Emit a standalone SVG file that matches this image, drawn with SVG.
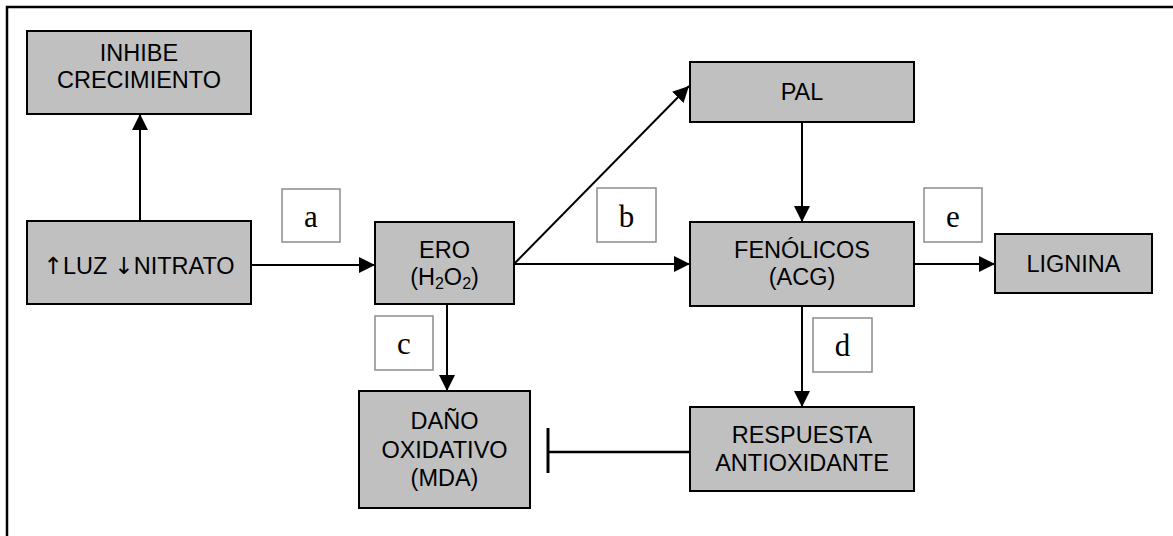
<svg xmlns="http://www.w3.org/2000/svg" width="1173" height="536" viewBox="0 0 1173 536">
<defs>
<style>
.node{fill:#c0c0c0;stroke:#000;stroke-width:2}
.t{font-family:"Liberation Sans",Arial,sans-serif;font-size:23.5px;fill:#000;text-anchor:middle}
.ar{font-family:"DejaVu Sans",sans-serif}
.lab{fill:#fff;stroke:#8c8c8c;stroke-width:1.5}
.lt{font-family:"Liberation Serif","Times New Roman",serif;font-size:31px;fill:#000;text-anchor:middle}
.c{stroke:#000;stroke-width:2;fill:none}
</style>
<marker id="ah" markerUnits="userSpaceOnUse" markerWidth="18" markerHeight="16" refX="16" refY="8" orient="auto">
<path d="M0,0 L16,8 L0,16 Z" fill="#000"/>
</marker>
</defs>
<rect x="0" y="0" width="1173" height="536" fill="#fff"/>
<path d="M7,536 L7,7 L1173,7" fill="none" stroke="#000" stroke-width="2.5"/>
<g id="connectors">
<line class="c" x1="140" y1="221" x2="140" y2="114" marker-end="url(#ah)"/>
<line class="c" x1="251" y1="265" x2="375" y2="265" marker-end="url(#ah)"/>
<line class="c" x1="514" y1="264" x2="689" y2="86" marker-end="url(#ah)"/>
<line class="c" x1="514" y1="264" x2="690" y2="264" marker-end="url(#ah)"/>
<line class="c" x1="447" y1="304" x2="447" y2="391" marker-end="url(#ah)"/>
<line class="c" x1="802" y1="122" x2="802" y2="222" marker-end="url(#ah)"/>
<line class="c" x1="914" y1="264" x2="995" y2="264" marker-end="url(#ah)"/>
<line class="c" x1="802" y1="306" x2="802" y2="407" marker-end="url(#ah)"/>
<line x1="690" y1="452" x2="548" y2="452" stroke="#000" stroke-width="2.5"/>
<line x1="548" y1="428" x2="548" y2="473" stroke="#000" stroke-width="3"/>
</g>
<g id="inhibe">
<rect class="node" x="27" y="31" width="224" height="83"/>
<text class="t" x="139" y="61">INHIBE</text>
<text class="t" x="139" y="88">CRECIMIENTO</text>
</g>
<g id="luz">
<rect class="node" x="27" y="221" width="224" height="83"/>
<text class="t" x="139" y="274"><tspan class="ar">↑</tspan>LUZ <tspan class="ar">↓</tspan>NITRATO</text>
</g>
<g id="ero">
<rect class="node" x="375" y="222" width="139" height="82"/>
<text class="t" x="444.5" y="258">ERO</text>
<text class="t" x="444.5" y="285">(H<tspan font-size="16" dy="4">2</tspan><tspan dy="-4">O</tspan><tspan font-size="16" dy="4">2</tspan><tspan dy="-4">)</tspan></text>
</g>
<g id="pal">
<rect class="node" x="690" y="62" width="224" height="60"/>
<text class="t" x="802" y="100">PAL</text>
</g>
<g id="fenolicos">
<rect class="node" x="690" y="222" width="224" height="84"/>
<text class="t" x="802" y="258">FENÓLICOS</text>
<text class="t" x="802" y="285">(ACG)</text>
</g>
<g id="lignina">
<rect class="node" x="995" y="234" width="157" height="59"/>
<text class="t" x="1073.5" y="272">LIGNINA</text>
</g>
<g id="dano">
<rect class="node" x="359" y="391" width="171" height="117"/>
<text class="t" x="444.5" y="429">DAÑO</text>
<text class="t" x="444.5" y="458">OXIDATIVO</text>
<text class="t" x="444.5" y="486">(MDA)</text>
</g>
<g id="respuesta">
<rect class="node" x="690" y="407" width="224" height="84"/>
<text class="t" x="802" y="443">RESPUESTA</text>
<text class="t" x="802" y="471">ANTIOXIDANTE</text>
</g>
<g id="label-a"><rect class="lab" x="282" y="189" width="58" height="53"/><text class="lt" x="311" y="227">a</text></g>
<g id="label-b"><rect class="lab" x="597" y="188" width="59" height="54"/><text class="lt" x="626.5" y="227">b</text></g>
<g id="label-c"><rect class="lab" x="375" y="316" width="58" height="54"/><text class="lt" x="404" y="354">c</text></g>
<g id="label-d"><rect class="lab" x="813" y="318" width="59" height="54"/><text class="lt" x="842.5" y="356">d</text></g>
<g id="label-e"><rect class="lab" x="924" y="188" width="58" height="54"/><text class="lt" x="953" y="227">e</text></g>
</svg>
